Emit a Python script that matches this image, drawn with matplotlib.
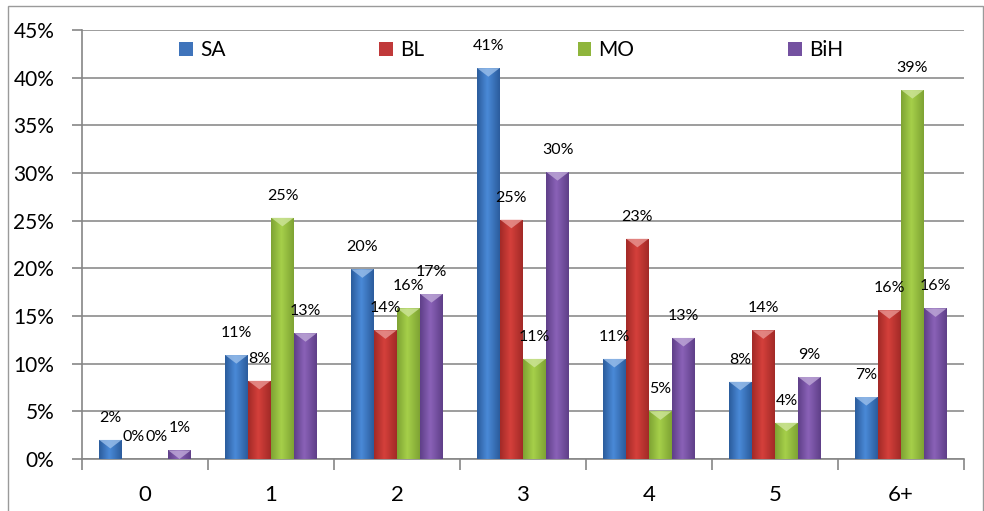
# -*- coding: utf-8 -*-
# grouped bar chart, shares per category for SA / BL / MO / BiH
import matplotlib
matplotlib.use('Agg')
import matplotlib.pyplot as plt
import numpy as np
from matplotlib.colors import LinearSegmentedColormap, to_rgb
from matplotlib.patches import Polygon, Rectangle, Patch

plt.rcParams['font.family'] = ['Lato', 'DejaVu Sans']

categories = ['0', '1', '2', '3', '4', '5', '6+']
series = ['SA', 'BL', 'MO', 'BiH']
SA = [2.0, 10.9, 19.9, 41.0, 10.5, 8.1, 6.5]
BL = [0.0, 8.2, 13.5, 25.1, 23.1, 13.5, 15.6]
MO = [0.0, 25.3, 15.8, 10.5, 5.0, 3.8, 38.7]
BiH = [0.9, 13.2, 17.3, 30.1, 12.7, 8.6, 15.8]
labels = [['2%', '11%', '20%', '41%', '11%', '8%', '7%'],
          ['0%', '8%', '14%', '25%', '23%', '14%', '16%'],
          ['0%', '25%', '16%', '11%', '5%', '4%', '39%'],
          ['1%', '13%', '17%', '30%', '13%', '9%', '16%']]
yticks = [0, 5, 10, 15, 20, 25, 30, 35, 40, 45]

# (edge colour, centre colour, legend colour)
colors = [('#2b5c9c', '#4a8ad8', '#3f74bb'),
          ('#a22a27', '#d5403b', '#c0393a'),
          ('#7ea333', '#a6d04a', '#8fb53c'),
          ('#5f3f88', '#8a62b8', '#7451a0')]

fig = plt.figure(figsize=(9.84, 5.11), dpi=100)
ax = fig.add_axes([0.0833, 0.1018, 0.8963, 0.8395])

# outer border of the chart area
fig.patches.append(Rectangle((0.008, -0.01), 0.991, 0.998, transform=fig.transFigure,
                             fill=False, edgecolor='#9a9a9a', linewidth=1.0))

x = np.arange(len(categories))
width = 0.178
step = 0.183
data = [SA, BL, MO, BiH]

grad = np.linspace(0, 1, 64).reshape(1, -1)
handles = []
for i, (vals, name) in enumerate(zip(data, series)):
    edge, centre, leg = colors[i]
    cmap = LinearSegmentedColormap.from_list(
        name, [(0, edge), (0.45, centre), (1, edge)])
    bars = ax.bar(x + (i - 1.5) * step, vals, width, color='none',
                  zorder=3, linewidth=0)
    handles.append(Patch(facecolor=leg, edgecolor='none', label=name))
    for b, lab in zip(bars, labels[i]):
        x0, w, h = b.get_x(), b.get_width(), b.get_height()
        if h > 0:
            im = ax.imshow(grad, cmap=cmap, aspect='auto', zorder=3,
                           extent=(x0, x0 + w, 0, h), interpolation='bicubic')
            im.set_clip_path(b)
            # lighter bevel triangle on the top
            cap = min(0.9, h)
            light = tuple(min(1, c * 0.55 + 0.45) for c in to_rgb(centre))
            ax.add_patch(Polygon([(x0, h), (x0 + w, h), (x0 + w / 2, h - cap)],
                                 closed=True, facecolor=light, edgecolor='none',
                                 alpha=0.8, zorder=4))
        ax.text(x0 + w / 2, h + 2.3, lab, ha='center', va='center',
                fontsize=11.5, color='black', zorder=5)

ax.set_xlim(-0.5, len(categories) - 0.5)
ax.set_ylim(0, 45)
ax.set_yticks(yticks)
ax.set_yticklabels([f'{t}%' for t in yticks], fontsize=15)
ax.set_xticks(x)
ax.set_xticklabels(categories, fontsize=16)
ax.set_xticks(np.arange(len(categories) + 1) - 0.5, minor=True)
ax.tick_params(axis='x', which='major', length=0, pad=19)
ax.tick_params(axis='x', which='minor', length=8, color='#868686', width=1.2)
ax.tick_params(axis='y', length=7, color='#868686', width=1.2, pad=13)
ax.grid(axis='y', color='#8c8c8c', linewidth=1.2, zorder=0)
ax.set_axisbelow(True)
for s in ['top', 'right']:
    ax.spines[s].set_visible(False)
for s in ['left', 'bottom']:
    ax.spines[s].set_color('#868686')
    ax.spines[s].set_linewidth(1.2)

ax.legend(handles=handles, loc='center left', bbox_to_anchor=(0.11, 0.953, 0.753, 0.0),
          mode='expand', ncol=4, frameon=False, fontsize=15, handlelength=0.65,
          handleheight=0.65, handletextpad=0.35, borderaxespad=0, borderpad=0)

fig.savefig('out.png', dpi=100)
